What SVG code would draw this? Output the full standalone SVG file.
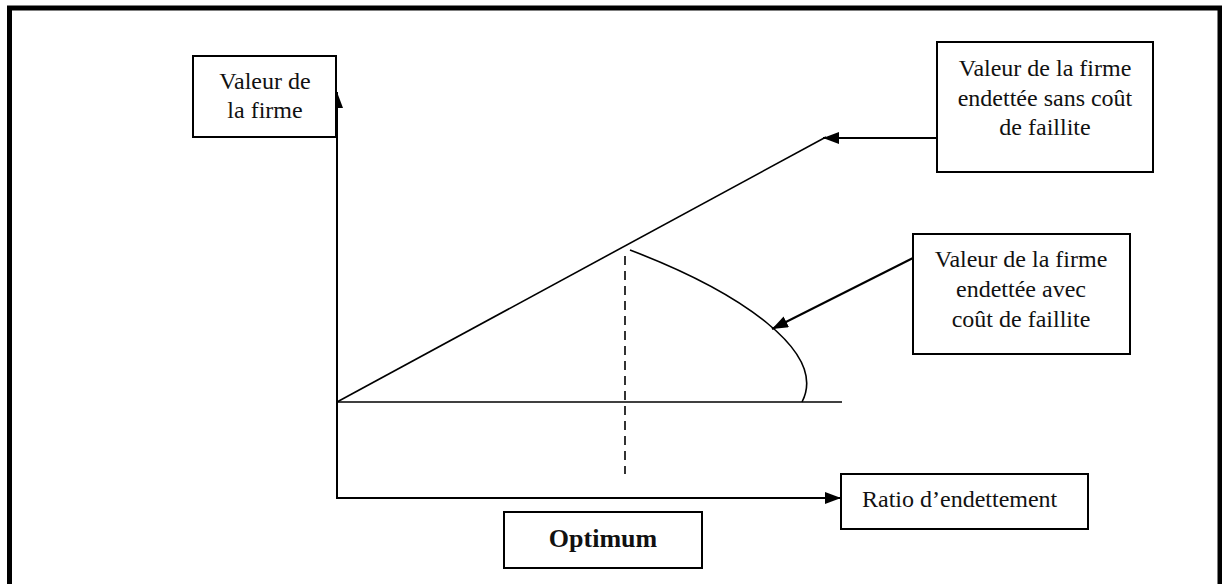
<svg xmlns="http://www.w3.org/2000/svg" width="1222" height="584" viewBox="0 0 1222 584">
<style>
.box{fill:#fff;stroke:#000;stroke-width:2}
.t{font-family:'Liberation Serif','Times New Roman','DejaVu Serif',serif;font-size:24px;fill:#111;text-anchor:middle}
.ln{fill:none;stroke:#000;stroke-width:2}
.thin{fill:none;stroke:#000;stroke-width:1.6}
</style>
<defs>
<marker id="ah" markerWidth="16" markerHeight="12" refX="16" refY="6" orient="auto" markerUnits="userSpaceOnUse">
<path d="M0,0 L16,6 L0,12 Z" fill="#000"/>
</marker>
</defs>
<rect x="0" y="0" width="1222" height="584" fill="#fff"/>
<path d="M9.5,590 V8 H1220 V590" fill="none" stroke="#000" stroke-width="5"/>
<g id="connectors">
<line class="ln" x1="337" y1="498" x2="337" y2="92" marker-end="url(#ah)"/>
<line class="ln" x1="336" y1="498" x2="841" y2="498" marker-end="url(#ah)"/>
<line class="thin" x1="337" y1="402" x2="842" y2="402"/>
<line class="thin" x1="337" y1="402" x2="826" y2="137"/>
<path class="thin" d="M630,250 C740,292 828,352 802,402"/>
<line class="thin" x1="625" y1="256" x2="625" y2="474" stroke-dasharray="9,6"/>
<line class="ln" x1="937" y1="138" x2="823" y2="138" marker-end="url(#ah)"/>
<line class="ln" x1="913" y1="258" x2="772" y2="329" marker-end="url(#ah)"/>
</g>
<g id="node-valeur">
<rect class="box" x="193" y="56" width="143" height="81"/>
<text class="t" x="265" y="89" font-family="Liberation Serif">Valeur de</text>
<text class="t" x="265" y="118" font-family="Liberation Serif">la firme</text>
</g>
<g id="node-sans">
<rect class="box" x="937" y="42" width="216" height="130"/>
<text class="t" x="1045" y="76">Valeur de la firme</text>
<text class="t" x="1045" y="106">endettée sans coût</text>
<text class="t" x="1045" y="135">de faillite</text>
</g>
<g id="node-avec">
<rect class="box" x="913" y="234" width="217" height="120"/>
<text class="t" x="1021" y="267">Valeur de la firme</text>
<text class="t" x="1021" y="297">endettée avec</text>
<text class="t" x="1021" y="327">coût de faillite</text>
</g>
<g id="node-ratio">
<rect class="box" x="841" y="474" width="247" height="55"/>
<text class="t" x="862" y="507" style="text-anchor:start">Ratio d’endettement</text>
</g>
<g id="node-optimum">
<rect class="box" x="504" y="512" width="198" height="56"/>
<text class="t" x="603" y="547" style="font-weight:bold;font-size:26px">Optimum</text>
</g>
</svg>
